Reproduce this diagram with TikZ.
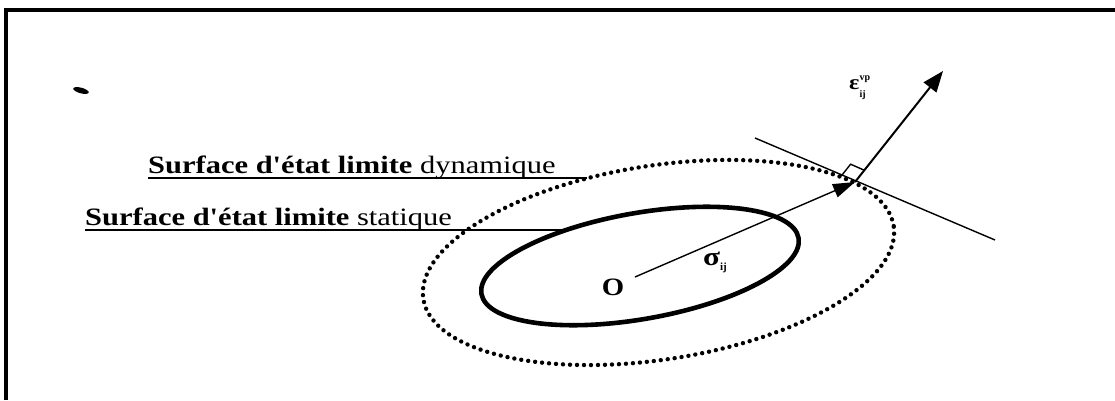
\documentclass[tikz,border=0pt]{standalone}
\usepackage{fontspec}
\setmainfont{Liberation Serif}[Ligatures=TeXOff]
\usetikzlibrary{arrows.meta,calc}
\begin{document}
\begin{tikzpicture}[x=1pt,y=1pt,
  framestyle/.style={line width=4pt, line join=miter},
  statline/.style={line width=4.6pt},
  dynline/.style={line width=4.4pt, line cap=round, dash pattern=on 0pt off 7pt},
  thinline/.style={line width=1.4pt},
  vecline/.style={line width=1.4pt, -{Triangle[length=22pt,width=14pt]}},
  normline/.style={line width=2pt, -{Triangle[length=21pt,width=16pt]}},
  lab/.style={inner sep=0pt, font=\fontsize{25}{30}\selectfont}
]
\useasboundingbox (0,0) rectangle (1115,400);
% frame
\draw[framestyle] (6,0) -- (6,390) -- (1115,390);
% small blot
\fill[rotate around={-15:(81,309.5)}] (81,309.5) ellipse [x radius=8, y radius=2.8];
% surfaces
\draw[statline, rotate around={10:(640,134)}] (640,134) ellipse [x radius=161, y radius=53];
\draw[dynline, rotate around={8.8:(658.5,137.5)}] (658.5,137.5) ellipse [x radius=238, y radius=97];
% coordinates
\coordinate (T) at (855,218);
\coordinate (S0) at (635,123);
\coordinate (N) at (943,329);
\coordinate (L1) at (755,262);
\coordinate (L2) at (995,160);
\coordinate (dynend) at (587,222);
\coordinate (statend) at (563,170);
% tangent line
\draw[thinline] (L1) -- (L2);
% right angle marker
\coordinate (ra1) at ($(T)!15pt!(L1)$);
\coordinate (ra3) at ($(T)!15pt!(N)$);
\coordinate (ra2) at ($(ra1)+(ra3)-(T)$);
\draw[thinline] (ra1) -- (ra2) -- (ra3);
% vectors
\draw[vecline] (S0) -- (T);
\draw[normline] (T) -- (N);
% labels
\node[lab, anchor=base west] (dyntxt) at (148,227)
  {\scalebox{1.22}[1]{\textbf{Surface d'état limite} dynamique}};
\draw[thinline] ([yshift=-5pt]dyntxt.base west) -- (dynend);
\node[lab, anchor=base west] (stattxt) at (85,175)
  {\scalebox{1.22}[1]{\textbf{Surface d'état limite} statique}};
\draw[thinline] ([yshift=-5pt]stattxt.base west) -- (statend);
\node[inner sep=0pt, font=\fontsize{25}{28}\selectfont\bfseries] (O) at (613,113) {\scalebox{1.15}[1]{O}};
\node[inner sep=0pt, anchor=base west, font=\fontsize{26}{28}\selectfont\bfseries] (sig) at (703,135)
  {\scalebox{1.2}[1]{σ}\raisebox{-5pt}{\fontsize{11}{11}\selectfont ij}};
\node[inner sep=0pt, anchor=base west, font=\fontsize{21}{24}\selectfont\bfseries] (eps) at (849,311)
  {\scalebox{1.15}[1]{ε}\rlap{\raisebox{9pt}{\fontsize{10}{10}\selectfont vp}}\raisebox{-8pt}{\fontsize{10}{10}\selectfont ij}};
\end{tikzpicture}
\end{document}
